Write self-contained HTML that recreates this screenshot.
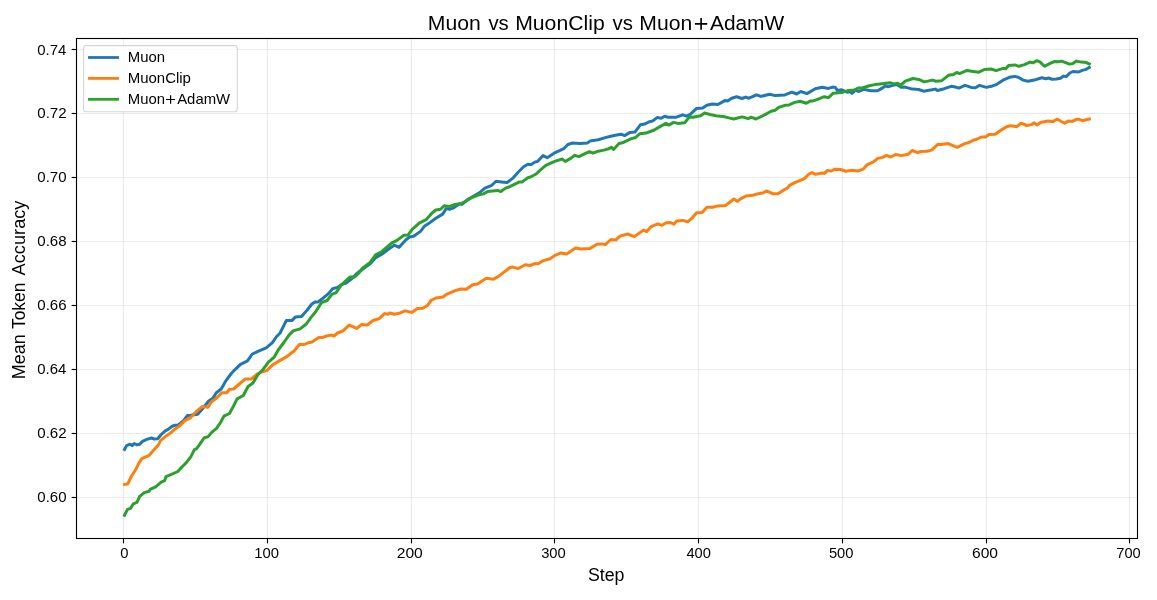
<!DOCTYPE html>
<html><head><meta charset="utf-8"><title>Muon vs MuonClip vs Muon+AdamW</title>
<style>html,body{margin:0;padding:0;background:#fff;}body{width:1157px;height:600px;overflow:hidden;}svg{display:block;}text{font-family:"Liberation Sans",sans-serif;fill:#000;}</style></head><body>
<svg width="1157" height="600" viewBox="0 0 1157 600">
<rect x="0" y="0" width="1157" height="600" fill="#fff"/>
<g stroke="#b0b0b0" stroke-opacity="0.26" stroke-width="1.11" fill="none">
<line x1="123.5" y1="38.5" x2="123.5" y2="538.5"/>
<line x1="267.5" y1="38.5" x2="267.5" y2="538.5"/>
<line x1="411.5" y1="38.5" x2="411.5" y2="538.5"/>
<line x1="554.5" y1="38.5" x2="554.5" y2="538.5"/>
<line x1="698.5" y1="38.5" x2="698.5" y2="538.5"/>
<line x1="842.5" y1="38.5" x2="842.5" y2="538.5"/>
<line x1="986.5" y1="38.5" x2="986.5" y2="538.5"/>
<line x1="1129.5" y1="38.5" x2="1129.5" y2="538.5"/>
<line x1="76.5" y1="49.5" x2="1137.5" y2="49.5"/>
<line x1="76.5" y1="113.5" x2="1137.5" y2="113.5"/>
<line x1="76.5" y1="177.5" x2="1137.5" y2="177.5"/>
<line x1="76.5" y1="241.5" x2="1137.5" y2="241.5"/>
<line x1="76.5" y1="305.5" x2="1137.5" y2="305.5"/>
<line x1="76.5" y1="369.5" x2="1137.5" y2="369.5"/>
<line x1="76.5" y1="433.5" x2="1137.5" y2="433.5"/>
<line x1="76.5" y1="497.5" x2="1137.5" y2="497.5"/>
</g>
<g fill="none" stroke-width="3.0" stroke-linejoin="round" stroke-linecap="square">
<path stroke="#1f77b4" d="M124.5 449.5 L126.6 445.6 L130.1 444.2 L132.1 445.6 L134.2 443.5 L137.0 444.9 L139.7 444.2 L142.5 441.4 L146.7 439.4 L151.5 438.0 L154.3 439.1 L157.7 438.7 L161.2 434.5 L165.3 430.8 L168.1 429.4 L172.2 426.2 L175.0 425.3 L178.3 424.9 L183.8 420.4 L187.3 415.5 L190.7 415.3 L197.7 414.2 L203.2 407.9 L208.7 401.0 L212.9 398.2 L216.3 392.7 L221.2 389.0 L225.3 381.7 L230.9 374.0 L235.0 369.6 L240.5 364.4 L247.5 360.9 L252.3 354.0 L258.5 351.2 L266.2 347.9 L272.4 342.7 L276.6 336.5 L280.1 333.0 L286.3 320.6 L291.8 320.6 L295.3 317.1 L301.5 316.4 L307.0 310.2 L311.9 304.0 L315.3 301.9 L318.1 301.9 L323.6 297.7 L328.5 293.6 L332.6 288.7 L337.5 287.4 L341.6 284.6 L345.8 283.2 L351.3 279.1 L356.8 273.5 L370.7 263.2 L375.6 257.7 L381.8 254.2 L390.1 248.0 L394.3 245.2 L399.1 247.3 L405.3 240.4 L409.5 237.0 L413.6 236.3 L420.5 231.4 L424.7 225.9 L430.2 222.4 L435.8 218.3 L442.7 214.1 L446.1 208.6 L449.6 209.3 L453.7 207.9 L459.3 203.8 L462.0 204.4 L467.6 199.6 L479.4 192.9 L484.9 188.1 L491.8 185.3 L496.0 181.2 L501.5 181.9 L507.0 182.6 L512.6 178.4 L518.1 172.2 L523.6 166.7 L527.8 164.3 L531.2 164.6 L534.7 162.1 L537.5 161.5 L543.0 155.6 L547.1 157.7 L554.1 153.2 L559.6 150.7 L563.7 148.7 L567.9 144.5 L572.0 143.1 L580.3 143.6 L587.2 143.1 L590.0 141.1 L598.3 139.7 L605.2 137.6 L610.8 136.2 L615.5 135.2 L621.1 134.2 L624.5 135.6 L630.1 132.4 L634.9 132.1 L640.4 124.8 L644.6 124.1 L648.7 122.0 L652.9 120.9 L657.0 117.6 L661.2 118.3 L664.6 116.2 L668.1 117.2 L676.4 117.2 L682.6 114.8 L686.8 116.2 L690.2 114.4 L696.4 108.6 L702.7 107.9 L706.8 105.2 L712.3 104.0 L717.9 104.5 L724.8 100.6 L727.6 101.0 L731.7 98.2 L736.6 96.7 L742.1 98.5 L745.5 97.1 L749.0 98.2 L756.6 94.8 L760.8 96.4 L769.7 94.3 L775.2 95.6 L784.9 94.9 L791.8 92.2 L796.7 94.0 L800.8 91.5 L807.0 93.6 L815.3 88.7 L822.2 87.3 L828.5 88.4 L832.6 87.1 L835.4 87.6 L837.5 90.5 L841.6 89.8 L847.1 92.2 L849.9 91.5 L852.0 93.3 L855.4 90.1 L858.9 91.5 L863.7 89.4 L870.7 90.8 L877.6 90.8 L881.7 88.4 L885.2 86.0 L888.6 86.7 L892.8 85.3 L896.9 84.6 L901.1 87.3 L905.2 87.1 L912.4 89.1 L918.7 89.5 L923.5 91.2 L931.8 89.8 L935.3 89.1 L937.3 90.5 L944.3 88.7 L951.2 86.3 L955.3 87.0 L958.8 88.1 L965.0 85.4 L971.2 87.4 L975.4 87.7 L979.5 85.4 L986.4 87.4 L991.3 86.3 L996.8 84.3 L1003.7 79.8 L1009.3 77.3 L1014.8 76.4 L1018.3 77.3 L1023.1 80.1 L1027.9 81.2 L1034.2 80.1 L1041.8 77.7 L1045.9 78.7 L1048.5 78.0 L1052.2 79.2 L1056.3 79.0 L1060.5 78.2 L1063.6 76.1 L1066.2 76.6 L1069.8 73.0 L1072.9 71.5 L1078.6 72.0 L1082.2 70.4 L1085.9 69.4 L1089.3 67.5"/>
<path stroke="#ff7f0e" d="M124.5 484.4 L127.8 483.9 L131.0 477.0 L135.6 469.8 L139.0 462.9 L141.8 458.7 L144.6 457.3 L148.7 455.7 L152.9 451.1 L158.4 444.9 L160.5 440.7 L165.3 436.6 L169.5 433.8 L175.0 429.0 L179.2 426.2 L185.2 420.4 L190.7 417.6 L196.3 411.4 L202.5 406.5 L208.0 407.2 L211.5 401.7 L216.3 398.2 L221.9 392.7 L226.7 392.7 L229.5 389.3 L233.6 389.0 L240.5 383.0 L245.4 378.9 L251.6 378.9 L257.1 374.0 L261.3 372.0 L266.8 370.6 L272.3 365.1 L279.3 360.9 L287.6 356.1 L294.5 350.5 L299.4 344.5 L304.3 344.5 L308.4 342.7 L311.9 342.0 L318.8 337.6 L322.2 337.6 L326.4 336.0 L331.2 335.1 L334.0 336.0 L337.5 333.0 L343.0 330.9 L349.2 325.1 L356.8 328.4 L361.7 324.4 L367.2 325.0 L373.4 320.3 L378.9 318.9 L384.5 313.6 L387.9 314.3 L390.0 313.0 L394.2 314.3 L398.3 313.6 L405.2 310.9 L411.8 312.4 L417.3 308.6 L422.8 308.3 L427.7 305.2 L431.1 300.3 L436.0 298.0 L442.9 296.9 L447.0 294.1 L455.3 290.6 L460.9 289.0 L466.4 289.3 L472.6 284.7 L477.5 284.1 L481.6 281.2 L486.4 278.2 L493.4 279.3 L498.9 276.1 L503.7 272.4 L510.0 267.5 L512.7 267.1 L518.3 268.5 L525.2 264.8 L530.0 265.5 L535.5 263.4 L538.3 263.7 L542.5 260.9 L550.1 258.8 L554.9 255.4 L561.1 252.9 L566.6 253.9 L575.6 248.1 L581.1 249.1 L590.1 248.4 L597.0 244.2 L601.9 243.9 L605.3 244.6 L610.9 239.5 L615.7 240.1 L619.8 236.1 L627.5 234.0 L634.4 236.6 L638.5 233.6 L643.4 230.1 L646.8 231.5 L651.0 226.7 L657.9 223.9 L662.0 225.3 L666.2 222.8 L670.3 222.5 L673.8 224.2 L676.6 221.1 L682.8 220.4 L687.6 221.8 L691.8 218.4 L696.6 212.8 L702.1 212.5 L706.9 207.2 L712.4 207.2 L718.0 205.9 L725.6 205.4 L730.4 201.7 L733.9 198.9 L737.3 201.4 L741.5 198.3 L746.3 195.9 L752.6 195.2 L759.5 193.4 L762.9 193.1 L766.4 190.9 L772.6 193.7 L778.1 193.7 L783.0 190.4 L787.1 188.2 L789.9 185.1 L795.4 182.3 L804.4 178.6 L809.3 173.8 L812.0 172.7 L815.5 174.3 L821.7 173.1 L824.5 173.4 L827.2 170.6 L831.4 171.0 L834.9 169.2 L840.4 169.5 L845.9 171.3 L852.1 170.3 L858.3 170.9 L863.1 169.2 L867.3 164.6 L873.5 161.9 L877.7 158.4 L882.5 157.4 L886.7 155.4 L890.8 157.0 L895.6 154.5 L901.2 155.6 L908.1 154.3 L912.2 150.5 L917.8 152.6 L920.5 151.5 L926.8 151.2 L931.6 150.1 L937.8 144.3 L941.3 144.6 L948.2 143.6 L952.4 145.3 L957.2 147.3 L964.8 143.6 L969.0 142.5 L973.1 140.4 L977.2 139.0 L981.4 137.0 L985.5 137.0 L989.0 134.6 L995.2 134.2 L1001.1 130.1 L1006.6 126.7 L1010.7 125.7 L1017.0 126.7 L1021.1 123.2 L1026.7 125.5 L1031.5 124.6 L1034.3 122.9 L1037.0 124.9 L1040.5 122.5 L1048.1 121.1 L1052.9 121.8 L1057.1 119.0 L1061.2 121.5 L1064.7 123.2 L1068.1 121.1 L1072.3 121.4 L1076.4 119.3 L1079.2 119.3 L1082.7 120.7 L1086.8 119.5 L1089.3 119.0"/>
<path stroke="#2ca02c" d="M124.5 515.3 L127.5 509.4 L130.6 508.3 L133.4 503.8 L136.9 502.4 L139.7 496.4 L144.3 492.6 L149.2 491.2 L150.1 489.4 L155.6 486.8 L161.2 482.2 L164.6 480.6 L166.0 476.7 L170.9 474.6 L177.8 471.5 L181.9 467.0 L186.1 462.9 L190.9 456.7 L194.4 449.7 L196.4 448.8 L199.9 444.2 L204.0 438.0 L208.2 436.6 L211.7 432.4 L216.5 428.3 L220.5 422.5 L223.9 416.2 L229.5 413.5 L233.6 405.9 L237.1 398.9 L243.3 395.5 L248.1 386.5 L253.0 383.0 L257.8 374.7 L262.7 369.9 L268.2 362.3 L274.4 356.8 L277.9 350.5 L284.2 342.0 L289.0 335.1 L293.2 330.9 L300.1 328.9 L306.3 324.0 L311.2 317.1 L315.3 312.3 L321.5 302.6 L327.1 300.5 L331.9 294.3 L336.1 292.6 L341.6 284.6 L349.9 277.0 L354.7 277.0 L359.6 272.1 L362.4 268.1 L370.1 262.5 L375.6 254.9 L381.1 252.2 L391.5 243.2 L397.0 240.4 L403.9 235.3 L408.1 234.9 L412.2 229.3 L419.2 223.1 L426.1 219.7 L431.6 213.4 L435.8 210.0 L440.6 209.3 L444.1 205.8 L449.6 206.5 L455.1 204.4 L460.6 203.8 L466.2 201.0 L471.7 197.5 L478.0 195.0 L483.5 193.9 L487.7 191.5 L497.3 190.4 L500.8 191.5 L505.6 188.1 L509.8 186.7 L519.5 181.9 L522.2 181.9 L527.8 177.7 L530.5 177.0 L536.1 174.0 L540.2 170.1 L545.8 165.3 L551.3 162.9 L555.4 161.1 L562.3 159.0 L565.1 161.5 L570.6 158.4 L574.8 155.3 L578.9 156.7 L584.5 153.8 L589.3 151.7 L592.8 153.2 L598.3 151.2 L603.8 150.1 L608.7 148.7 L611.4 147.3 L613.5 149.4 L619.0 143.5 L622.4 142.8 L630.7 138.9 L635.6 137.5 L639.7 133.8 L646.0 133.1 L654.3 130.0 L661.2 125.9 L666.0 123.4 L668.8 125.1 L673.6 122.4 L677.8 123.4 L684.7 122.7 L689.5 116.9 L693.0 117.2 L700.6 115.8 L704.7 113.0 L711.0 114.7 L717.9 116.1 L723.4 116.5 L728.9 117.9 L733.8 119.0 L742.1 116.9 L748.3 118.6 L751.1 117.2 L755.9 119.0 L762.1 116.1 L765.5 114.3 L771.1 111.3 L775.2 110.2 L778.7 107.4 L784.9 105.3 L789.0 105.0 L793.9 102.6 L800.1 101.2 L806.3 103.2 L810.5 100.9 L813.2 100.9 L818.1 99.1 L824.3 96.7 L828.5 97.7 L833.3 93.2 L841.6 92.6 L848.5 90.4 L854.1 90.1 L858.2 88.0 L862.3 88.0 L869.3 85.7 L874.8 84.6 L880.3 83.9 L890.0 82.8 L894.2 83.9 L897.6 83.2 L900.4 85.7 L905.2 81.1 L913.1 78.5 L918.7 79.4 L924.2 81.9 L932.5 80.1 L936.0 81.2 L941.5 80.8 L948.4 75.3 L953.3 74.6 L956.7 72.5 L959.5 73.6 L967.1 70.4 L973.3 71.4 L978.8 72.2 L984.4 69.5 L991.3 69.0 L996.1 70.7 L1003.0 68.4 L1005.8 68.8 L1008.6 65.6 L1014.8 64.9 L1018.9 66.3 L1024.5 64.6 L1030.0 62.1 L1032.8 62.8 L1036.9 60.7 L1039.7 61.9 L1040.2 62.1 L1044.4 66.3 L1049.6 63.7 L1054.8 61.4 L1058.4 61.8 L1061.5 61.1 L1065.6 62.6 L1068.8 63.9 L1072.4 63.7 L1076.5 61.1 L1081.2 62.1 L1086.4 62.6 L1089.3 64.0"/>
</g>
<g stroke="#000" stroke-width="1.11">
<line x1="123.5" y1="538.5" x2="123.5" y2="543.4"/>
<line x1="267.5" y1="538.5" x2="267.5" y2="543.4"/>
<line x1="411.5" y1="538.5" x2="411.5" y2="543.4"/>
<line x1="554.5" y1="538.5" x2="554.5" y2="543.4"/>
<line x1="698.5" y1="538.5" x2="698.5" y2="543.4"/>
<line x1="842.5" y1="538.5" x2="842.5" y2="543.4"/>
<line x1="986.5" y1="538.5" x2="986.5" y2="543.4"/>
<line x1="1129.5" y1="538.5" x2="1129.5" y2="543.4"/>
<line x1="71.6" y1="49.5" x2="76.5" y2="49.5"/>
<line x1="71.6" y1="113.5" x2="76.5" y2="113.5"/>
<line x1="71.6" y1="177.5" x2="76.5" y2="177.5"/>
<line x1="71.6" y1="241.5" x2="76.5" y2="241.5"/>
<line x1="71.6" y1="305.5" x2="76.5" y2="305.5"/>
<line x1="71.6" y1="369.5" x2="76.5" y2="369.5"/>
<line x1="71.6" y1="433.5" x2="76.5" y2="433.5"/>
<line x1="71.6" y1="497.5" x2="76.5" y2="497.5"/>
</g>
<rect x="76.5" y="38.5" width="1061.0" height="500.0" fill="none" stroke="#000" stroke-width="1.11"/>
<g opacity="0.999">
<text transform="translate(120.19,558.00) scale(1.0358,1)" font-size="14.3">0</text>
<text transform="translate(254.26,558.00) scale(1.0362,1)" font-size="14.3">100</text>
<text transform="translate(396.71,558.00) scale(1.0935,1)" font-size="14.3">200</text>
<text transform="translate(541.14,558.00) scale(1.0328,1)" font-size="14.3">300</text>
<text transform="translate(686.40,558.00) scale(1.0262,1)" font-size="14.3">400</text>
<text transform="translate(828.90,558.00) scale(1.0302,1)" font-size="14.3">500</text>
<text transform="translate(971.97,558.00) scale(1.0909,1)" font-size="14.3">600</text>
<text transform="translate(1116.33,558.00) scale(1.0247,1)" font-size="14.3">700</text>
<text transform="translate(37.29,55.00) scale(1.0441,1)" font-size="14.3">0.74</text>
<text transform="translate(37.28,118.00) scale(1.0556,1)" font-size="14.3">0.72</text>
<text transform="translate(37.28,182.00) scale(1.0506,1)" font-size="14.3">0.70</text>
<text transform="translate(37.28,246.00) scale(1.0540,1)" font-size="14.3">0.68</text>
<text transform="translate(37.28,310.00) scale(1.0540,1)" font-size="14.3">0.66</text>
<text transform="translate(37.29,374.00) scale(1.0441,1)" font-size="14.3">0.64</text>
<text transform="translate(37.28,438.00) scale(1.0556,1)" font-size="14.3">0.62</text>
<text transform="translate(37.28,502.00) scale(1.0506,1)" font-size="14.3">0.60</text>
<text transform="translate(427.75,30.10) scale(1.0594,1)" font-size="20.0">Muon</text>
<text transform="translate(488.38,30.10) scale(1.0196,1)" font-size="20.0">vs</text>
<text transform="translate(515.15,30.10) scale(1.0604,1)" font-size="20.0">MuonClip</text>
<text transform="translate(612.48,30.10) scale(1.0196,1)" font-size="20.0">vs</text>
<text transform="translate(639.25,30.10) scale(1.0594,1)" font-size="20.0">Muon</text>
<text transform="translate(709.98,30.10) scale(1.0440,1)" font-size="20.0">AdamW</text>
<path d="M694.90 23.90 H707.30 M701.10 18.00 V29.80" stroke="#000" stroke-width="1.65" fill="none"/>
<text transform="translate(587.91,580.90) scale(0.9983,1)" font-size="17.8">Step</text>
<text transform="translate(24.80,379.16) rotate(-90) scale(1.0098,1)" font-size="17.8">Mean</text>
<text transform="translate(24.80,329.08) rotate(-90) scale(0.9815,1)" font-size="17.8">Token</text>
<text transform="translate(24.80,275.42) rotate(-90) scale(1.0237,1)" font-size="17.8">Accuracy</text>
<rect x="83.6" y="45.6" width="153.7" height="66.2" rx="2.8" ry="2.8" fill="#fff" fill-opacity="0.8" stroke="#ccc" stroke-opacity="0.8" stroke-width="1.11"/>
<line x1="89.45" y1="57.50" x2="117.55" y2="57.50" stroke="#1f77b4" stroke-width="2.8" stroke-linecap="square"/>
<line x1="89.45" y1="78.40" x2="117.55" y2="78.40" stroke="#ff7f0e" stroke-width="2.8" stroke-linecap="square"/>
<line x1="89.45" y1="99.30" x2="117.55" y2="99.30" stroke="#2ca02c" stroke-width="2.8" stroke-linecap="square"/>
<text transform="translate(127.74,62.00) scale(1.0419,1)" font-size="14.3">Muon</text>
<text transform="translate(127.74,82.90) scale(1.0477,1)" font-size="14.3">MuonClip</text>
<text transform="translate(127.74,103.90) scale(1.0419,1)" font-size="14.3">Muon</text>
<path d="M166.15 99.50 H175.05 M170.60 95.20 V103.80" stroke="#000" stroke-width="1.20" fill="none"/>
<text transform="translate(177.18,103.90) scale(1.0418,1)" font-size="14.3">AdamW</text>
</g>
</svg></body></html>
